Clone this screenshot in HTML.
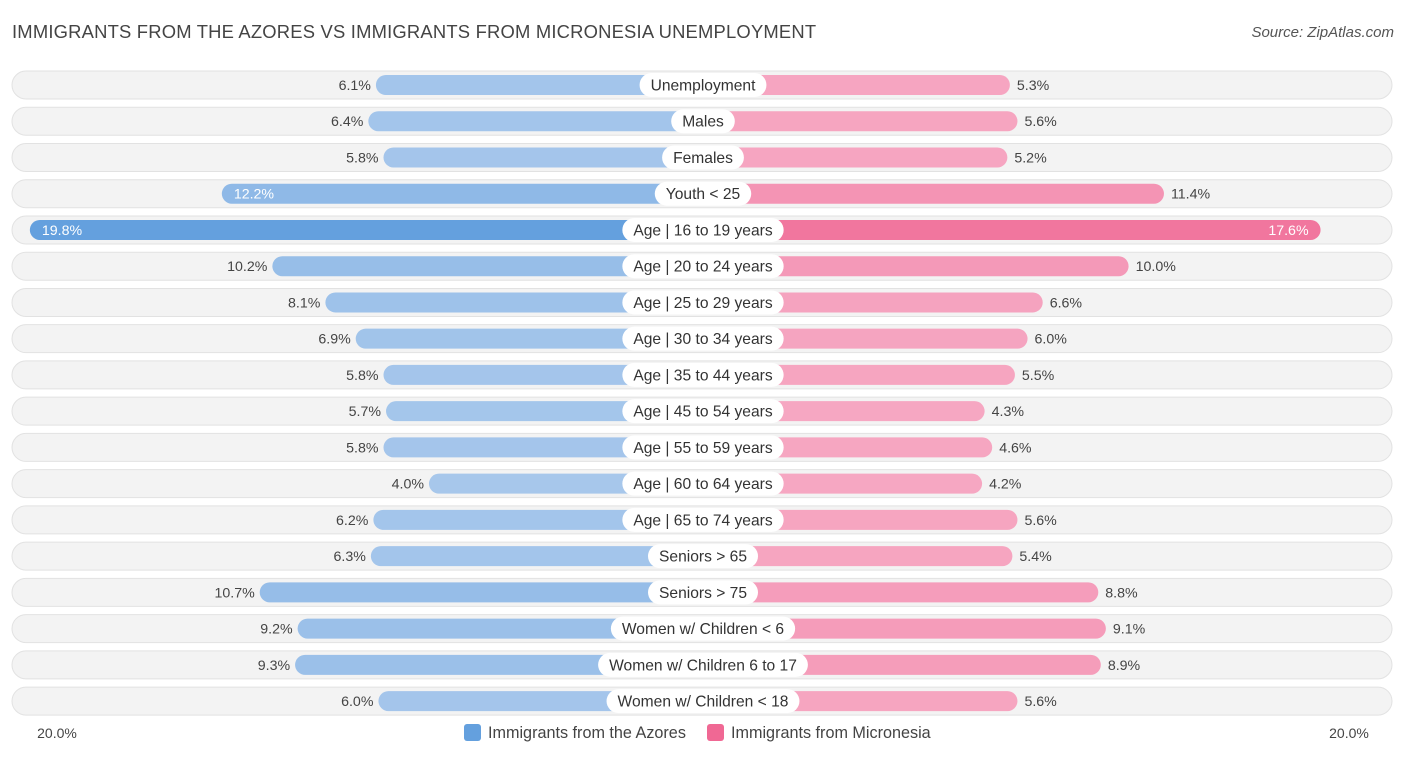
<!DOCTYPE html>
<html><head><meta charset="utf-8">
<style>
body{margin:0;background:#fff;font-family:"Liberation Sans",Roboto,sans-serif;}
#wrap{position:relative;width:1406px;height:757px;overflow:hidden;}
.title{position:absolute;left:12px;top:21px;font-size:18.4px;color:#444;letter-spacing:0.2px}
.source{position:absolute;right:12px;top:24px;font-size:15px;color:#555;font-style:italic}
</style></head><body>
<div id="wrap">
<div class="title">IMMIGRANTS FROM THE AZORES VS IMMIGRANTS FROM MICRONESIA UNEMPLOYMENT</div>
<div class="source">Source: ZipAtlas.com</div>
<svg id="svg" width="1406" height="757" style="position:absolute;left:0;top:0"></svg>
</div>
<script>
const categories=["Unemployment","Males","Females","Youth < 25","Age | 16 to 19 years","Age | 20 to 24 years","Age | 25 to 29 years","Age | 30 to 34 years","Age | 35 to 44 years","Age | 45 to 54 years","Age | 55 to 59 years","Age | 60 to 64 years","Age | 65 to 74 years","Seniors > 65","Seniors > 75","Women w/ Children < 6","Women w/ Children 6 to 17","Women w/ Children < 18"];
const azores=[6.1,6.4,5.8,12.2,19.8,10.2,8.1,6.9,5.8,5.7,5.8,4.0,6.2,6.3,10.7,9.2,9.3,6.0];
const micronesia=[5.3,5.6,5.2,11.4,17.6,10.0,6.6,6.0,5.5,4.3,4.6,4.2,5.6,5.4,8.8,9.1,8.9,5.6];
const axisLabels=["20.0%","20.0%"];
const seriesNames=["Immigrants from the Azores","Immigrants from Micronesia"];

const NS="http://www.w3.org/2000/svg";
const svg=document.getElementById('svg');
const cx=703, base=173, k=25.26, y0=85, dy=36.24;
function w(v){return base+k*v;}
function rowY(i){return y0+i*dy;}
function mk(t,a,p){const e=document.createElementNS(NS,t);for(const n in a)e.setAttribute(n,a[n]);(p||svg).appendChild(e);return e;}
function mix(c1,c2,t){return 'rgb('+c1.map((c,i)=>Math.round(c+(c2[i]-c)*t)).join(',')+')';}
const maxV=Math.max(...azores,...micronesia);
azores.forEach((a,i)=>{
  const m=micronesia[i], y=rowY(i);
  const g=mk('g',{});
  
  
  const bg=mk('rect',{x:12,y:y-14,width:1380,height:28,rx:14,fill:'#f3f3f3',stroke:'#e2e2e2','stroke-width':1},g);
  
  
  const ta=Math.pow(a/maxV,2), tm=Math.pow(m/maxV,2);
  const ca=mix([170,201,236],[100,160,222],ta), cm=mix([246,170,196],[240,104,148],tm);
  const lw=w(a), rw=w(m);
  const rb=mk('rect',{x:cx-lw,y:y-10,width:lw,height:20,rx:10,fill:ca},g);
  
  
  const pb=mk('rect',{x:cx,y:y-10,width:rw,height:20,rx:10,fill:cm},g);
  
  
  const lt=mk('text',{x:cx,y:y+5.5,'text-anchor':'middle','font-size':15.6,fill:'#333'},g);
  lt.textContent=categories[i];
  const tw=lt.getComputedTextLength()+22;
  const pill=mk('rect',{x:cx-tw/2,y:y-12,width:tw,height:24,rx:12,fill:'#fff'},g);
  g.insertBefore(pill,lt);
  
  
  const inA=a>11, inM=m>15;
  const va=mk('text',{x:inA?cx-lw+12:cx-lw-5,y:y+5,'text-anchor':inA?'start':'end','font-size':14.2,fill:inA?'#fff':'#444'},g);
  va.textContent=a.toFixed(1)+'%';
  
  
  const vm=mk('text',{x:inM?cx+rw-12:cx+rw+7,y:y+5,'text-anchor':inM?'end':'start','font-size':14.2,fill:inM?'#fff':'#444'},g);
  vm.textContent=m.toFixed(1)+'%';
  
  
});
const al=mk('text',{x:57,y:738,'text-anchor':'middle','font-size':14,fill:'#444'});al.textContent=axisLabels[0];


const ar=mk('text',{x:1349,y:738,'text-anchor':'middle','font-size':14,fill:'#444'});ar.textContent=axisLabels[1];


const lg1=mk('g',{});


mk('rect',{x:464,y:724,width:17,height:17,rx:3,fill:'#64a0de'},lg1);
mk('text',{x:488,y:738,'font-size':16.2,fill:'#444'},lg1).textContent=seriesNames[0];
const lg2=mk('g',{});


mk('rect',{x:707,y:724,width:17,height:17,rx:3,fill:'#f06894'},lg2);
mk('text',{x:731,y:738,'font-size':16.2,fill:'#444'},lg2).textContent=seriesNames[1];
</script>
</body></html>
